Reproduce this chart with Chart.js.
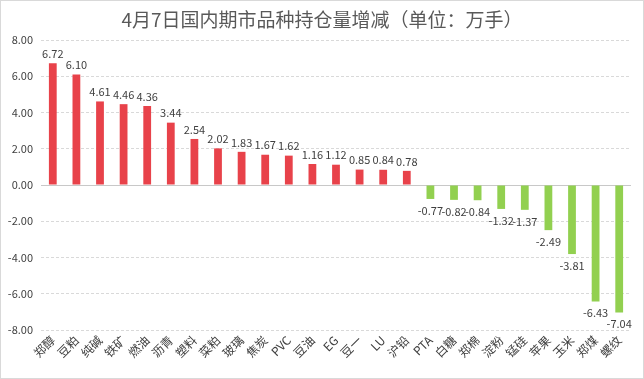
<!DOCTYPE html>
<html><head><meta charset="utf-8">
<script src="https://cdn.jsdelivr.net/npm/chart.js@4"></script>
<style>
html,body{margin:0;padding:0;background:#fff;}
#wrap{position:absolute;left:0;top:0;width:642px;height:377px;border:1px solid #d9d9d9;}
</style></head><body>
<div id="wrap"><canvas id="c" width="642" height="377"></canvas></div>
<script>
const categories = ["郑醇","豆粕","纯碱","铁矿","燃油","沥青","塑料","菜粕","玻璃","焦炭","PVC","豆油","EG","豆一","LU","沪铅","PTA","白糖","郑棉","淀粉","锰硅","苹果","玉米","郑煤","螺纹"];
const values = [6.72,6.10,4.61,4.46,4.36,3.44,2.54,2.02,1.83,1.67,1.62,1.16,1.12,0.85,0.84,0.78,-0.77,-0.82,-0.84,-1.32,-1.37,-2.49,-3.81,-6.43,-7.04];
const yTicks = [-8,-6,-4,-2,0,2,4,6,8];
const titleText = "4月7日国内期市品种持仓量增减（单位：万手）";
const FONT = "'Noto Sans CJK SC','Microsoft YaHei',sans-serif";

const labelPlugin = {
  id:'vlabels',
  afterDatasetsDraw(chart){
    const ctx = chart.ctx;
    const meta = chart.getDatasetMeta(0);
    ctx.save();
    ctx.font = "11px " + FONT;
    ctx.fillStyle = "#404040";
    ctx.textAlign = "center";
    meta.data.forEach((bar,i)=>{
      const v = values[i];
      if (v >= 0){ ctx.textBaseline="bottom"; ctx.fillText(v.toFixed(2), bar.x, bar.y-4); }
      else { ctx.textBaseline="top"; ctx.fillText(v.toFixed(2), bar.x, bar.y+6); }
    });
    ctx.restore();
  }
};
const zeroLine = {
  id:'zeroLine',
  beforeDatasetsDraw(chart){
    const {ctx, chartArea:a, scales:{y}} = chart;
    const py = Math.round(y.getPixelForValue(0))+0.5;
    ctx.save();
    ctx.strokeStyle='#c8c8c8'; ctx.lineWidth=1;
    ctx.beginPath(); ctx.moveTo(a.left,py); ctx.lineTo(a.right,py); ctx.stroke();
    ctx.restore();
  }
};
const centeredTitle = {
  id:'centeredTitle',
  afterDraw(chart){
    const ctx = chart.ctx;
    ctx.save();
    ctx.font = "19px " + FONT;
    ctx.fillStyle = "#595959";
    ctx.textAlign = "center"; ctx.textBaseline = "middle";
    ctx.fillText(titleText, chart.width/2, 19);
    ctx.restore();
  }
};

new Chart(document.getElementById('c'),{
  type:'bar',
  data:{labels:categories,datasets:[{data:values,
    backgroundColor:values.map(v=>v>=0?'#E8424A':'#92D050'),
    barPercentage:0.66,categoryPercentage:0.5}]},
  options:{
    responsive:false,animation:false,
    layout:{padding:{left:0,right:12,top:39,bottom:2}},
    plugins:{legend:{display:false},tooltip:{enabled:false},title:{display:false}},
    scales:{
      x:{grid:{display:false,drawTicks:false},border:{display:false},
        afterFit(s){s.height=46;},
        ticks:{color:'#404040',font:{family:FONT,size:12},maxRotation:45,minRotation:45,autoSkip:false,padding:3}},
      y:{min:-8,max:8,afterBuildTicks(ax){ax.ticks=yTicks.map(v=>({value:v}));},
        afterFit(s){s.width=40;},
        border:{display:false,dash:[3,2]},
        grid:{color:ctx=>ctx.tick && ctx.tick.value===0?'rgba(0,0,0,0)':'#d9d9d9',lineWidth:1,drawTicks:false},
        ticks:{color:'#404040',font:{family:FONT,size:11},padding:8,callback:v=>Number(v).toFixed(2)}}
    }
  },
  plugins:[labelPlugin,zeroLine,centeredTitle]
});
</script></body></html>
